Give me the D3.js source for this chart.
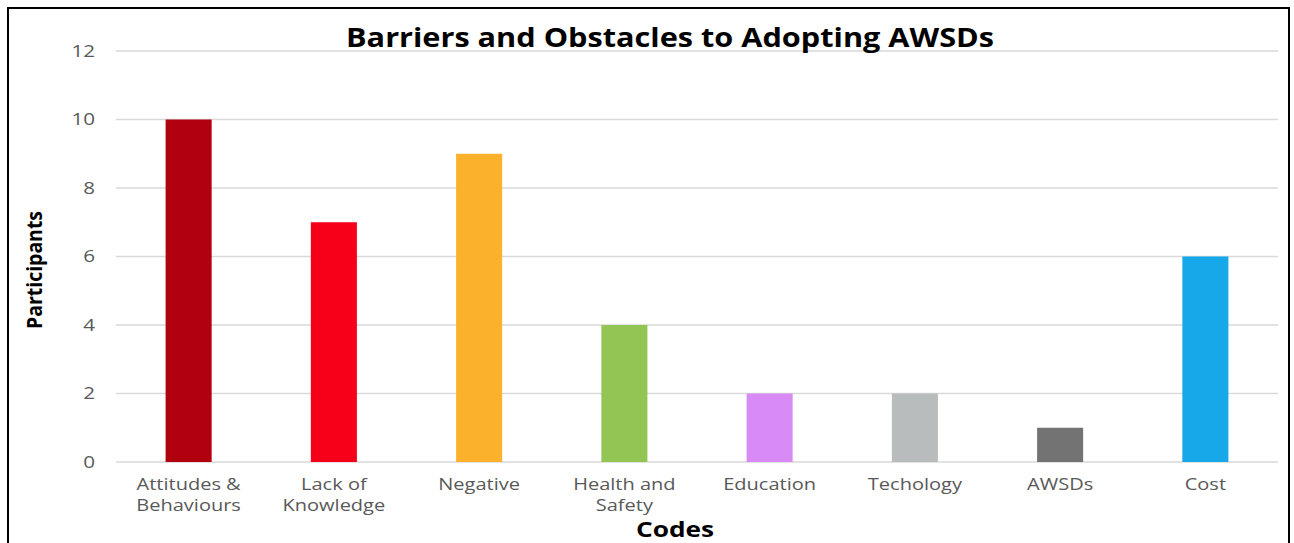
<!DOCTYPE html>
<html><head><meta charset="utf-8">
<script src="https://cdn.jsdelivr.net/npm/d3@7"></script>
<style>body{margin:0;background:#fff;}svg{display:block;}</style>
</head><body>
<svg id="c" width="1294" height="543"></svg>
<script>
const categories = ["Attitudes & Behaviours","Lack of Knowledge","Negative","Health and Safety","Education","Techology","AWSDs","Cost"];
const labelLines = [["Attitudes &","Behaviours"],["Lack of","Knowledge"],["Negative"],["Health and","Safety"],["Education"],["Techology"],["AWSDs"],["Cost"]];
const values = [10,7,9,4,2,2,1,6];
const colors = ["#B1000E","#F50018","#FBB12B","#92C553","#D88BF5","#B9BCBD","#737373","#16A8E9"];
const yTicks = [0,2,4,6,8,10,12];

const svg = d3.select("#c");
const m = {l:116, r:1278, t:51, b:462};
const x = d3.scaleBand().domain(categories).range([m.l, m.r]).paddingInner(0.683).paddingOuter(0.3415);
const y = d3.scaleLinear().domain([0,12]).range([m.b, m.t]);
const SX = 1.25;

// border
svg.append("rect").attr("x",8).attr("y",8).attr("width",1281).attr("height",560)
  .attr("fill","none").attr("stroke","#000").attr("stroke-width",2);

// gridlines
svg.append("g").selectAll("line").data(yTicks).join("line")
  .attr("x1",m.l).attr("x2",m.r).attr("y1",d=>y(d)).attr("y2",d=>y(d))
  .attr("stroke","#D9D9D9").attr("stroke-width",1.3);

// y axis labels
const yAxis = d3.axisLeft(y).tickValues(yTicks).tickSize(0).tickPadding(0);
const gy = svg.append("g").attr("transform",`translate(${m.l-21},0)`).call(yAxis);
gy.select(".domain").remove();
gy.selectAll("text").attr("font-family","Open Sans, sans-serif").attr("font-size",16.5).attr("fill","#595959")
  .attr("transform",`scale(${SX},1)`);

// bars
svg.append("g").selectAll("rect").data(values).join("rect")
  .attr("x",(d,i)=>x(categories[i])).attr("width",x.bandwidth())
  .attr("y",d=>y(d)).attr("height",d=>y(0)-y(d))
  .attr("fill",(d,i)=>colors[i]);

// x labels
const xl = svg.append("g").selectAll("text").data(categories).join("text")
  .attr("transform",d=>{const cx=x(d)+x.bandwidth()/2;return `translate(${cx},490) scale(${SX},1)`;})
  .attr("text-anchor","middle").attr("font-family","Open Sans, sans-serif")
  .attr("font-size",16).attr("fill","#595959");
xl.each(function(d,i){
  const t = d3.select(this);
  labelLines[i].forEach((ln,j)=>t.append("tspan").attr("x",0).attr("dy",j?21:0).text(ln));
});

// title
svg.append("text").attr("x",670).attr("y",47).attr("text-anchor","middle")
  .attr("font-family","Open Sans, sans-serif").attr("font-weight","bold").attr("font-size",27)
  .attr("textLength",648).attr("lengthAdjust","spacingAndGlyphs")
  .text("Barriers and Obstacles to Adopting AWSDs");

// axis titles
svg.append("text").attr("transform",`translate(675,537) scale(${SX},1)`).attr("text-anchor","middle")
  .attr("font-family","Open Sans, sans-serif").attr("font-weight","bold").attr("font-size",21)
  .text("Codes");
svg.append("text").attr("transform","translate(42,270) rotate(-90)").attr("text-anchor","middle")
  .attr("font-family","Open Sans, sans-serif").attr("font-weight","bold").attr("font-size",21)
  .attr("textLength",118).attr("lengthAdjust","spacingAndGlyphs")
  .text("Participants");
</script>
</body></html>
